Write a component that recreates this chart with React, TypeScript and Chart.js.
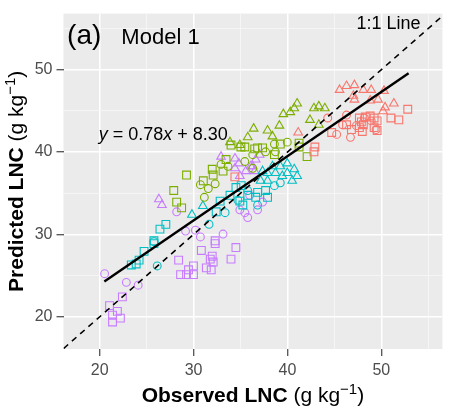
import React, { useEffect, useRef } from 'react';
import { Chart, registerables } from 'chart.js';

Chart.register(...registerables);

// ---- axis setup ----
const X_RANGE = [16.15, 56.5];
const Y_RANGE = [16.1, 56.8];
const TICK_VALUES = [20, 25, 30, 35, 40, 45, 50, 55];
const TICK_LABELS = ['20', '', '30', '', '40', '', '50', ''];

// ---- colours of the four groups (ggplot hue palette) ----
const GROUP_COLORS = ['#F8766D', '#7CAE00', '#00BFC4', '#C77CFF'];

// ---- reference lines ----
const ONE_TO_ONE = [10, 60];
const REG_SLOPE = 0.78;
const REG_INTERCEPT = 8.3;
const REG_X = [20.5, 52.9];

// ---- observed / predicted pairs [x, y] ----
const redTriangles = [[45.55,47.54],[46.29,48.01],[47.13,48.12],[48.08,47.54],[48.92,47.54],[50.28,47.42],[47.02,46.83],[47.13,46.36],[48.81,46.25],[49.65,46.36],[50.39,45.42],[50.18,44.95],[41.14,42.37],[51.33,45.89]];
const redSquares = [[52.81,45.19],[51.86,43.90],[47.66,44.13],[48.29,44.25],[48.81,44.37],[49.23,44.13],[49.55,43.78],[47.87,43.66],[48.08,43.31],[47.66,42.96],[47.97,42.49],[49.23,42.96],[49.55,42.61],[46.29,43.31],[44.71,42.37],[42.92,40.61],[42.82,40.03],[34.40,36.98],[51.02,44.13],[46.81,42.73]];
const redCircles = [[44.29,44.13],[46.29,44.49],[48.18,44.13],[45.87,43.31],[46.71,41.79],[49.44,42.73],[48.92,43.78],[47.34,43.20],[45.24,42.14]];

const greenTriangles = [[41.03,45.89],[40.72,45.31],[40.30,44.84],[39.56,44.60],[42.82,45.31],[43.34,45.54],[43.98,45.31],[42.40,43.90],[43.34,43.31],[39.14,43.20],[36.40,42.84],[37.88,42.61],[38.40,41.90],[35.77,41.79],[33.88,41.20],[34.93,40.85]];
const greenSquares = [[36.82,40.50],[37.35,40.50],[39.24,40.97],[41.24,41.08],[41.24,40.61],[42.09,39.44],[38.61,39.68],[29.25,37.21],[27.89,35.33],[28.20,33.93],[28.73,33.22],[31.99,37.91],[32.09,37.21],[33.46,39.09],[33.99,40.85],[35.04,40.61],[35.46,40.61],[36.51,40.38],[31.04,36.51],[33.14,37.68]];
const greenCircles = [[30.73,36.04],[31.57,35.57],[31.15,34.51],[32.30,36.15],[32.93,38.50],[35.46,38.85],[36.30,38.03],[36.30,39.68],[38.61,40.97],[39.98,41.20],[38.72,40.03],[37.67,40.03],[33.67,38.27]];

const cyanTriangles = [[40.72,37.91],[39.98,38.62],[39.24,38.27],[39.98,37.45],[37.88,37.45],[38.72,37.45],[37.14,36.51],[30.99,33.46],[29.83,32.40],[37.88,36.51],[41.03,37.09],[38.40,38.27],[39.45,37.09],[40.50,36.51],[37.35,37.68]];
const cyanSquares = [[34.51,35.69],[33.88,34.75],[32.83,34.04],[32.41,32.75],[34.93,34.04],[27.05,31.23],[26.42,30.64],[25.78,29.23],[24.73,27.94],[24.20,26.89],[23.89,26.42],[23.37,26.30],[25.78,28.88],[36.82,35.10],[36.62,34.51],[37.67,35.33],[35.07,35.92],[35.77,34.75],[37.88,34.51],[35.25,33.57]];
const cyanCircles = [[26.13,26.18],[33.36,32.64],[31.65,31.23],[25.78,29.12],[38.61,35.92],[39.24,36.27],[35.77,35.33],[36.82,33.57],[34.72,34.16]];

const purpleTriangles = [[26.31,34.28],[26.63,33.57],[32.93,39.44],[34.41,39.21],[34.41,38.03],[34.83,38.62],[36.09,38.27],[37.04,39.68],[36.62,39.09],[36.30,38.27],[36.51,37.68],[35.56,37.68],[34.93,37.09]];
const purpleCircles = [[28.20,32.75],[29.15,30.41],[30.20,30.52],[30.73,29.70],[33.14,30.05],[35.46,32.64],[35.98,34.75],[34.93,32.99],[20.53,25.24],[22.84,24.19],[24.10,23.84],[37.35,33.93],[35.77,32.05],[36.82,32.99]];
const purpleSquares = [[22.42,22.43],[21.05,21.37],[21.89,20.67],[21.37,20.20],[22.21,19.85],[21.37,19.38],[28.41,26.89],[29.46,25.71],[29.99,26.18],[29.25,25.13],[28.62,25.13],[29.99,25.13],[30.83,28.06],[31.78,27.00],[31.99,27.36],[31.36,25.95],[31.88,25.71],[32.09,26.65],[33.99,27.00],[34.51,28.41],[32.30,28.88],[32.30,29.23]];

const GROUPS = [
  { color: 0, shape: 'triangle', pts: redTriangles },
  { color: 0, shape: 'rect', pts: redSquares },
  { color: 0, shape: 'circle', pts: redCircles },
  { color: 1, shape: 'triangle', pts: greenTriangles },
  { color: 1, shape: 'rect', pts: greenSquares },
  { color: 1, shape: 'circle', pts: greenCircles },
  { color: 2, shape: 'triangle', pts: cyanTriangles },
  { color: 2, shape: 'rect', pts: cyanSquares },
  { color: 2, shape: 'circle', pts: cyanCircles },
  { color: 3, shape: 'triangle', pts: purpleTriangles },
  { color: 3, shape: 'rect', pts: purpleSquares },
  { color: 3, shape: 'circle', pts: purpleCircles },
];

// ---- text annotations (data coordinates of left/baseline) ----
const LABEL_PANEL = { text: '(a)', x: 16.53, y: 53.17 };
const LABEL_MODEL = { text: 'Model 1', x: 22.31, y: 53.17 };
const LABEL_ONE = { text: '1:1 Line', x: 47.34, y: 54.99 };
const LABEL_EQ = { x: 19.9, y: 41.49 };

const FONT = '"Liberation Sans", Arial, Helvetica, sans-serif';
const SHAPE_RADIUS: Record<string, number> = { triangle: 5.0, rect: 5.5, circle: 3.9 };

type Part = { t: string; font: string; dy?: number };

function drawRich(ctx: CanvasRenderingContext2D, parts: Part[], x: number, y: number, align: 'left' | 'center') {
  let total = 0;
  const widths = parts.map(p => { ctx.font = p.font; const w = ctx.measureText(p.t).width; total += w; return w; });
  let cx = align === 'center' ? x - total / 2 : x;
  ctx.textAlign = 'left';
  ctx.textBaseline = 'alphabetic';
  parts.forEach((p, i) => {
    ctx.font = p.font;
    ctx.fillText(p.t, cx, y + (p.dy || 0));
    cx += widths[i];
  });
}

const decorPlugin = {
  id: 'decor',
  beforeDraw(chart: any) {
    const { ctx, chartArea: a } = chart;
    ctx.save();
    ctx.fillStyle = '#FFFFFF';
    ctx.fillRect(0, 0, chart.width, chart.height);
    ctx.fillStyle = '#EBEBEB';
    ctx.fillRect(a.left, a.top, a.right - a.left, a.bottom - a.top);
    ctx.restore();
  },
  afterDraw(chart: any) {
    const { ctx, chartArea: a } = chart;
    const xs = chart.scales.x;
    const ys = chart.scales.y;
    ctx.save();
    ctx.fillStyle = '#000000';
    ctx.beginPath();
    ctx.rect(a.left, a.top, a.right - a.left, a.bottom - a.top);
    ctx.clip();
    drawRich(ctx, [{ t: LABEL_PANEL.text, font: `28px ${FONT}` }], xs.getPixelForValue(LABEL_PANEL.x), ys.getPixelForValue(LABEL_PANEL.y), 'left');
    drawRich(ctx, [{ t: LABEL_MODEL.text, font: `22px ${FONT}` }], xs.getPixelForValue(LABEL_MODEL.x), ys.getPixelForValue(LABEL_MODEL.y), 'left');
    drawRich(ctx, [{ t: LABEL_ONE.text, font: `18px ${FONT}` }], xs.getPixelForValue(LABEL_ONE.x), ys.getPixelForValue(LABEL_ONE.y), 'left');
    drawRich(ctx, [
      { t: 'y', font: `italic 18px ${FONT}` },
      { t: ' = ' + REG_SLOPE.toFixed(2), font: `18px ${FONT}` },
      { t: 'x', font: `italic 18px ${FONT}` },
      { t: ' + ' + REG_INTERCEPT.toFixed(2), font: `18px ${FONT}` },
    ], xs.getPixelForValue(LABEL_EQ.x), ys.getPixelForValue(LABEL_EQ.y), 'left');
    ctx.restore();

    ctx.save();
    ctx.fillStyle = '#000000';
    const titleParts = (bold: string): Part[] => [
      { t: bold, font: `bold 21px ${FONT}` },
      { t: ' (g kg', font: `21px ${FONT}` },
      { t: '\u22121', font: `15px ${FONT}`, dy: -8 },
      { t: ')', font: `21px ${FONT}` },
    ];
    drawRich(ctx, titleParts('Observed LNC'), (a.left + a.right) / 2, 402, 'center');
    ctx.translate(23, (a.top + a.bottom) / 2);
    ctx.rotate(-Math.PI / 2);
    drawRich(ctx, titleParts('Predicted LNC'), 0, 0, 'center');
    ctx.restore();
  },
};

function axisOptions(range: number[], isX: boolean) {
  const isMajor = (c: any) => c.tick && c.tick.value % 10 === 0;
  return {
    type: 'linear',
    min: range[0],
    max: range[1],
    afterBuildTicks: (s: any) => { s.ticks = TICK_VALUES.map(v => ({ value: v })); },
    afterFit: (s: any) => { if (isX) s.height = 59; else s.width = 63.5; },
    border: { display: false },
    grid: {
      color: (c: any) => (isMajor(c) ? '#FFFFFF' : '#F7F7F7'),
      lineWidth: (c: any) => (isMajor(c) ? 1.5 : 0.8),
      drawTicks: true,
      tickLength: 7,
      tickWidth: 1.1,
      tickColor: (c: any) => (isMajor(c) ? '#333333' : 'rgba(0,0,0,0)'),
    },
    ticks: {
      autoSkip: false,
      maxRotation: 0,
      padding: isX ? 5 : 4,
      color: '#4D4D4D',
      font: { family: FONT, size: 16 },
      callback: (v: number) => TICK_LABELS[TICK_VALUES.indexOf(v)] ?? '',
    },
  };
}

export default function App() {
  const ref = useRef<HTMLCanvasElement | null>(null);
  useEffect(() => {
    if (!ref.current) return;
    const lineSets: any[] = [
      {
        data: ONE_TO_ONE.map(v => ({ x: v, y: v })),
        showLine: true, borderColor: '#000000', borderWidth: 1.6, borderDash: [6, 5],
        pointRadius: 0, clip: 0,
      },
      {
        data: REG_X.map(v => ({ x: v, y: REG_SLOPE * v + REG_INTERCEPT })),
        showLine: true, borderColor: '#000000', borderWidth: 2.4,
        pointRadius: 0, clip: 0,
      },
    ];
    const pointSets = GROUPS.map(g => ({
      data: g.pts.map(p => ({ x: p[0], y: p[1] })),
      showLine: false,
      pointStyle: g.shape,
      pointRadius: SHAPE_RADIUS[g.shape],
      pointBorderWidth: 1.1,
      pointBorderColor: GROUP_COLORS[g.color],
      pointBackgroundColor: 'rgba(0,0,0,0)',
      borderColor: GROUP_COLORS[g.color],
      backgroundColor: 'rgba(0,0,0,0)',
      clip: 0,
    }));
    const chart = new Chart(ref.current, {
      type: 'scatter',
      data: { datasets: [...lineSets, ...pointSets] },
      options: {
        responsive: false,
        animation: false,
        devicePixelRatio: 1,
        layout: { padding: { top: 2, right: 2, left: 0, bottom: 0 } },
        plugins: { legend: { display: false }, tooltip: { enabled: false } },
        scales: { x: axisOptions(X_RANGE, true), y: axisOptions(Y_RANGE, false) },
      } as any,
      plugins: [decorPlugin],
    } as any);
    return () => chart.destroy();
  }, []);
  return (
    <div style={{ position: 'fixed', left: 0, top: 0, width: 449, height: 408, background: '#fff' }}>
      <canvas ref={ref} width={449} height={408} />
    </div>
  );
}
